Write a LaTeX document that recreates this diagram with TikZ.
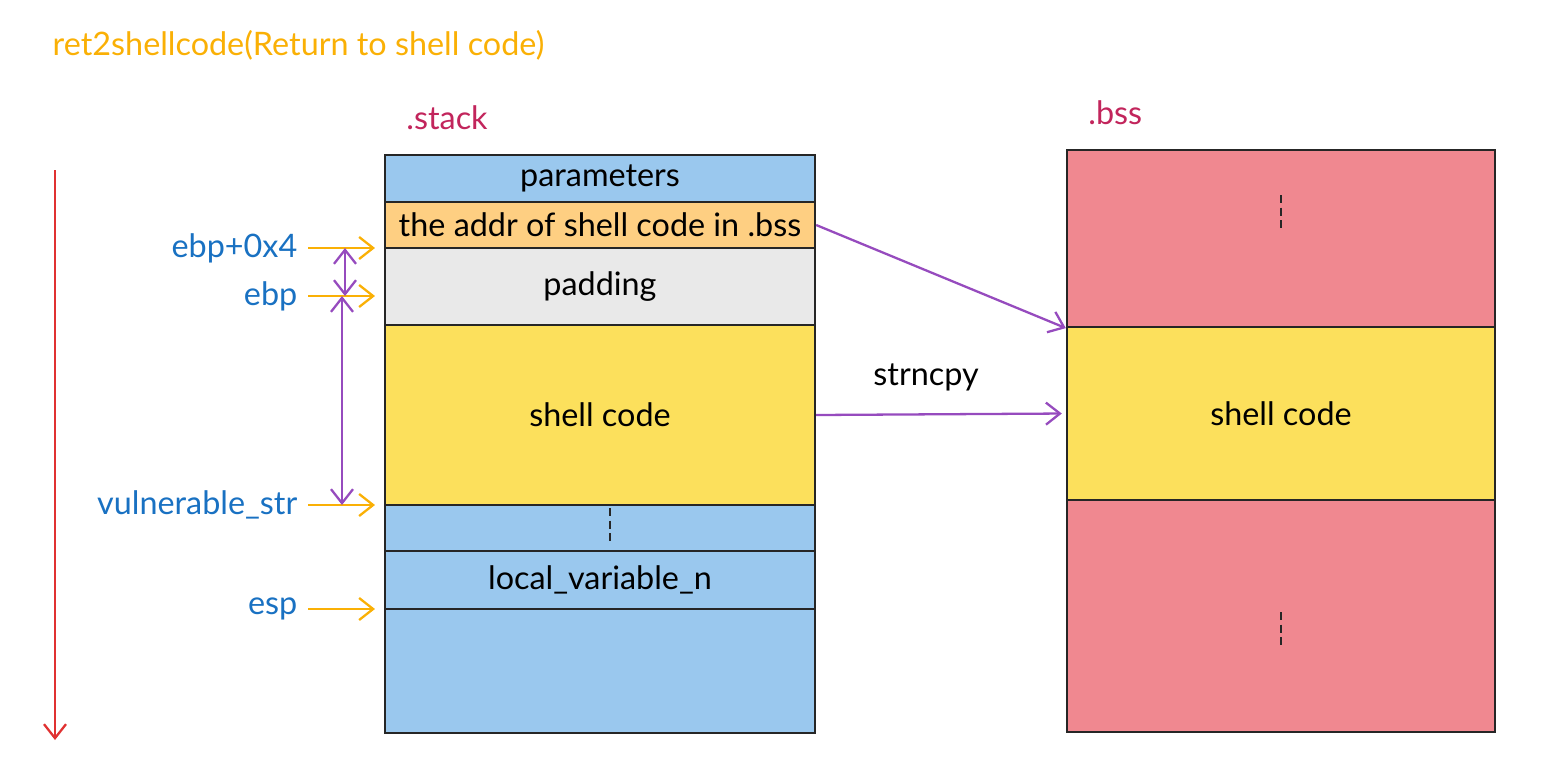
\documentclass[tikz,border=0pt]{standalone}
\usepackage{fontspec}
\setmainfont{Lato}
\usetikzlibrary{arrows.meta}

\definecolor{stackblue}{RGB}{154,200,238}
\definecolor{addrorange}{RGB}{254,207,130}
\definecolor{padgrey}{RGB}{233,233,233}
\definecolor{codeyellow}{RGB}{252,224,92}
\definecolor{bsspink}{RGB}{240,136,144}
\definecolor{regblue}{RGB}{25,113,194}
\definecolor{titleorange}{RGB}{250,176,5}
\definecolor{ptrpurple}{RGB}{150,75,190}
\definecolor{segred}{RGB}{194,37,92}
\definecolor{timered}{RGB}{224,49,49}

\begin{document}
\begin{tikzpicture}[
    x=0.01cm, y=-0.01cm,
    cell/.style={rectangle, draw=black!85, line width=0.6pt, minimum width=4.3cm, inner sep=0pt, font=\fontsize{9.2}{11}\selectfont},
    bcell/.style={cell, minimum width=4.28cm},
    reg/.style={anchor=east, inner sep=0.1cm, text=regblue, font=\fontsize{9.2}{11}\selectfont},
    seg/.style={anchor=west, text=segred, font=\fontsize{9.2}{11}\selectfont},
    ptr/.style={->, draw=titleorange, line width=0.65pt, shorten >=0.1cm},
    link/.style={->, draw=ptrpurple, line width=0.65pt},
    dots/.style={draw=black!85, line width=0.6pt, dash pattern=on 0.08cm off 0.045cm},
    >={Straight Barb[length=1.4mm, width=2.2mm]}
]
\useasboundingbox (0,0) rectangle (1556,781);

% Title
\node[anchor=west, inner sep=0pt, text=titleorange, font=\fontsize{9.2}{11}\selectfont] (title) at (52,45) {ret2shellcode(Return to shell code)};

% Segment names
\node[seg] (stackname) at (394,118) {.stack};
\node[seg] (bssname) at (1076,113) {.bss};

% Stack
\node[cell, fill=stackblue, minimum height=0.47cm] (param) at (600,178.5) {parameters};
\node[cell, fill=addrorange, minimum height=0.46cm] (addr) at (600,225) {the addr of shell code in .bss};
\node[cell, fill=padgrey, minimum height=0.77cm] (pad) at (600,286.5) {padding};
\node[cell, fill=codeyellow, minimum height=1.8cm] (shell) at (600,415) {shell code};
\node[cell, fill=stackblue, minimum height=0.46cm] (gap) at (600,528) {};
\node[cell, fill=stackblue, minimum height=0.58cm] (localn) at (600,580) {local\_variable\_n};
\node[cell, fill=stackblue, minimum height=1.24cm] (rest) at (600,671) {};
\draw[dots] (610,508) -- (610,543);

% .bss
\node[bcell, fill=bsspink, minimum height=1.77cm] (btop) at (1281,238.5) {};
\node[bcell, fill=codeyellow, minimum height=1.73cm] (bshell) at (1281,413.5) {shell code};
\node[bcell, fill=bsspink, minimum height=2.32cm] (bbot) at (1281,616) {};
\draw[dots] (1281,195) -- (1281,230);
\draw[dots] (1281,612) -- (1281,645);

% Growth direction
\coordinate (ttop) at (55,170);
\coordinate (tbot) at (55,740);
\draw[->, draw=timered, line width=0.65pt] (ttop) -- (tbot);

% Registers
\foreach \n/\t/\y in {ebpf/ebp+0x4/248, ebp/ebp/296, vstr/vulnerable\_str/505, esp/esp/609} {
    \node[reg] (\n) at (308,\y) {\t};
    \coordinate (\n t) at (385,\y);
    \draw[ptr] (\n.east) -- (\n t);
}

% Distances
\coordinate (d0) at (345,248);
\coordinate (d1) at (345,296);
\coordinate (d2) at (342,296);
\coordinate (d3) at (342,505);
\draw[link, <->] (d0) -- (d1);
\draw[link, <->] (d2) -- (d3);

% Pointers
\draw[link] (addr.east) -- (btop.south west);
\draw[link, shorten >=0.04cm] (shell.east) -- node[pos=0.44, above=0.1cm, text=black, font=\fontsize{9.2}{11}\selectfont] (copy) {strncpy} (bshell.west);
\end{tikzpicture}
\end{document}
